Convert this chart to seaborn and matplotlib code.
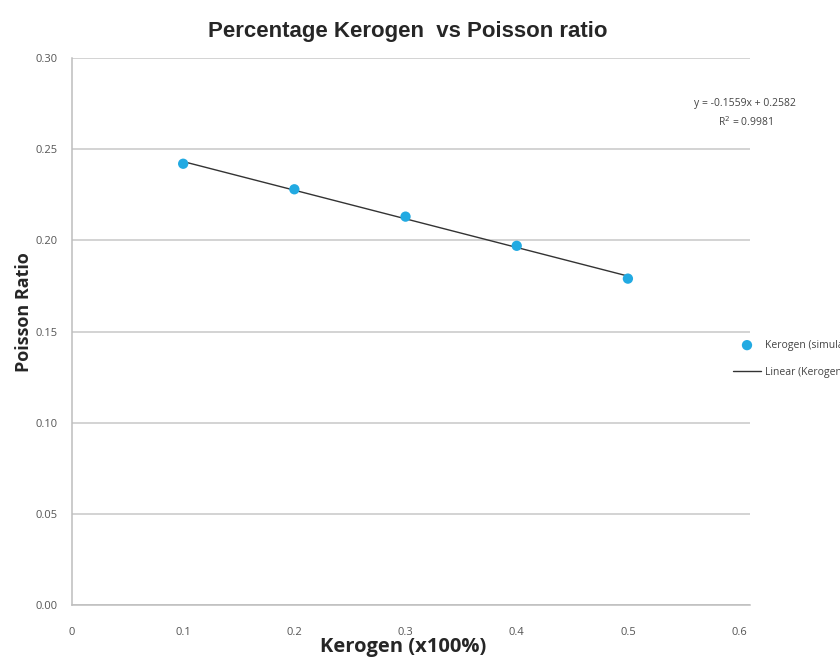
import numpy as np
import pandas as pd
import seaborn as sns
import matplotlib.pyplot as plt

# kerogen fraction vs poisson ratio
kerogen = [0.1, 0.2, 0.3, 0.4, 0.5]
poisson = [0.242, 0.228, 0.213, 0.197, 0.179]
y_ticks = [0.00, 0.05, 0.10, 0.15, 0.20, 0.25, 0.30]
x_ticks = [0, 0.1, 0.2, 0.3, 0.4, 0.5, 0.6]

df = pd.DataFrame({"kerogen": kerogen, "poisson": poisson})

sns.set_style("white")
plt.rcParams["font.family"] = ["Open Sans", "DejaVu Sans"]

fig = plt.figure(figsize=(8.4, 6.65), dpi=100)
ax = fig.add_axes([0.0857, 0.0902, 0.807, 0.8226])

sns.regplot(data=df, x="kerogen", y="poisson", ax=ax, scatter=False, ci=None,
            truncate=True, color="#333333", label="Linear (Kerogen (simulation))",
            line_kws={"linewidth": 1.0, "zorder": 2})
sns.scatterplot(data=df, x="kerogen", y="poisson", ax=ax, color="#22aae2",
                s=55, edgecolor="none", label="Kerogen (simulation)", zorder=3)

# trendline text, Excel style
fig.text(0.887, 0.845, "y = -0.1559x + 0.2582", ha="center", va="center",
         fontsize=7.5, color="#444444")
fig.text(0.887, 0.816, "R$^2$ = 0.9981", ha="center", va="center",
         fontsize=7.5, color="#444444")

ax.set_xlim(0, 0.6097)
ax.set_ylim(0, 0.30)
ax.set_xticks(x_ticks)
ax.set_xticklabels([f"{t:g}" for t in x_ticks])
ax.set_yticks(y_ticks)
ax.set_yticklabels([f"{t:.2f}" for t in y_ticks])
ax.yaxis.grid(True, color="#c8c8c8", linewidth=1.1)
ax.xaxis.grid(False)
ax.tick_params(axis="both", length=0, labelsize=8, labelcolor="#555555")
ax.tick_params(axis="x", pad=16)
ax.tick_params(axis="y", pad=10)
for side in ["top", "right"]:
    ax.spines[side].set_visible(False)
for side in ["left", "bottom"]:
    ax.spines[side].set_color("#bdbdbd")
    ax.spines[side].set_linewidth(1.1)

ax.set_xlabel("Kerogen (x100%)", fontsize=14.5, fontweight="bold")
ax.set_ylabel("Poisson Ratio", fontsize=13, fontweight="bold")
ax.xaxis.set_label_coords(0.489, -0.059)
ax.yaxis.set_label_coords(-0.058, 0.535)
fig.suptitle("Percentage Kerogen  vs Poisson ratio", x=0.486, y=0.968,
             fontsize=16, fontweight="bold", family="Liberation Sans")

handles, labels = ax.get_legend_handles_labels()
order = [labels.index("Kerogen (simulation)"), labels.index("Linear (Kerogen (simulation))")]
leg = ax.legend([handles[i] for i in order], [labels[i] for i in order],
                loc="upper left", bbox_to_anchor=(0.862, 0.503),
                bbox_transform=fig.transFigure, fontsize=7.5, frameon=True,
                handlelength=2.6, handletextpad=0.4, labelspacing=1.55,
                borderpad=0.4)
leg.get_frame().set_facecolor("white")
leg.get_frame().set_edgecolor("none")
leg.get_frame().set_alpha(1)
for t in leg.get_texts():
    t.set_color("#444444")

fig.savefig("out.png", dpi=100)
